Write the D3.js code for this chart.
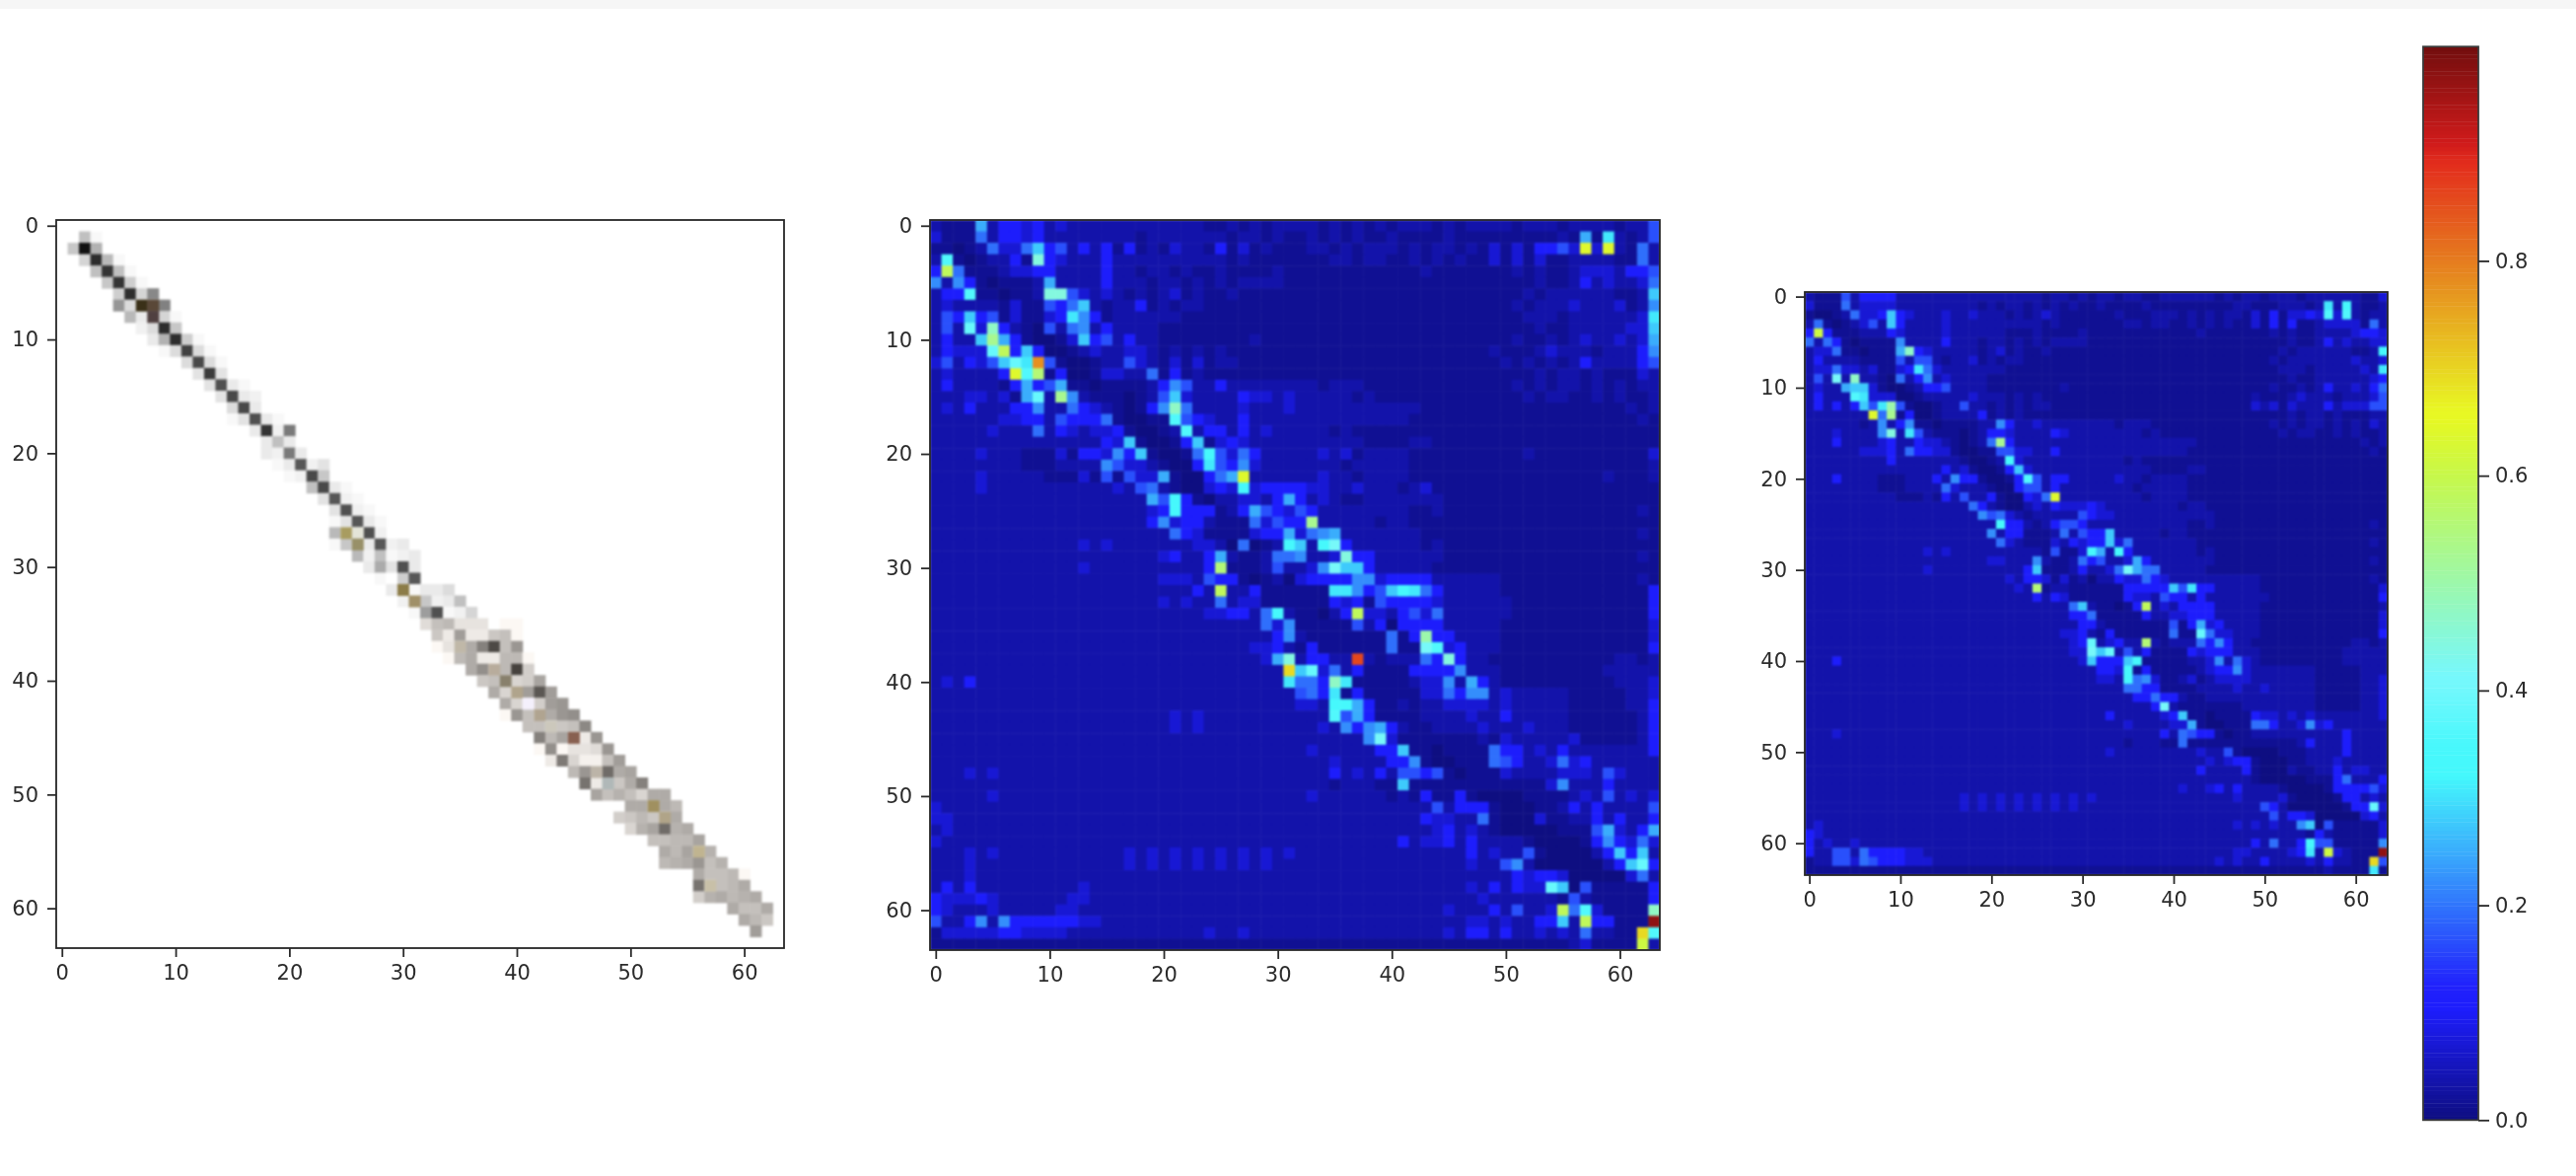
<!DOCTYPE html>
<html><head><meta charset="utf-8">
<script src="https://cdn.jsdelivr.net/npm/d3@7/dist/d3.min.js"></script>
<style>html,body{margin:0;padding:0;background:#fff}svg{display:block}</style>
</head><body><div id="chart"></div>
<script>
const axisTicks=[0,10,20,30,40,50,60];
const colorbarTicks=[0,0.2,0.4,0.6,0.8];
const colorbarMax=0.9995;
// values of the six darkest matrix codes (0-5); higher codes are code/36
const lowCodeValues=[0,0,0.015,0.035,0.07,0.105];
// left image: [row, first column, darkness codes]
const photoShades=[[1,2,"91"],[2,1,"8yb"],[3,2,"6ua1"],[4,3,"9t91"],[5,4,"8t71"],[6,5,"7u6h"],[7,5,"f500i"],[8,6,"a3061"],[9,7,"25u8"],[10,8,"3bu71"],[11,9,"15r51"],[12,11,"5q51"],[13,12,"4s4"],[14,13,"4p31"],[15,14,"4q32"],[16,15,"5q3"],[17,15,"14p31"],[18,17,"3t2j"],[19,18,"393"],[20,18,"32j3"],[21,19,"13o24"],[22,20,"12q8"],[23,22,"9q31"],[24,23,"4o21"],[25,24,"4p21"],[26,24,"14o31"],[27,24,"a00p2"],[28,24,"1803o23"],[29,26,"a29123"],[30,27,"3c4p3"],[31,28,"107o"],[32,29,"301335"],[33,30,"208239"],[34,31,"1ep126"],[35,32,"59a444011"],[36,33,"83e33891"],[37,33,"140ciq9f"],[38,34,"1ac33aa1"],[39,36,"cg0ar7"],[40,37,"89067d"],[41,38,"c60eoe"],[42,39,"c607ef"],[43,39,"1f90cfg"],[44,41,"99089h"],[45,42,"iad03f"],[46,42,"1g1445f"],[47,43,"3j6229e"],[48,45,"af0lcd"],[49,46,"k308ci"],[50,47,"d9b96cc"],[51,50,"cc0ca"],[52,49,"78a80c"],[53,50,"6bdlbc"],[54,52,"99aad"],[55,53,"cad0b"],[56,53,"abcf9b"],[57,56,"c99a1"],[58,56,"k09ac"],[59,56,"7bcabc"],[60,59,"c99c"],[61,60,"ca8"],[62,61,"e"]];
// left image: tinted pixels [row, column, red, green, blue]
const photoTints=[[7,7,58,48,24],[7,8,90,72,56],[8,8,80,64,64],[27,25,168,156,96],[27,26,228,228,216],[28,26,152,144,104],[32,30,140,124,72],[33,31,160,144,104],[37,35,192,184,168],[39,38,184,172,156],[40,39,136,128,108],[41,40,176,164,140],[42,41,244,240,252],[43,42,176,164,144],[44,43,204,200,188],[45,45,136,96,80],[48,47,188,180,168],[49,48,176,184,184],[51,52,160,144,96],[52,53,176,164,136],[55,56,192,180,144],[58,57,200,192,168]];
// middle matrix: one row per line, each character is one cell's value code (base 36)
const middleRows=[
"32229355 45343333 33333333 22323233 33232323 23332323 33323332 33332336",
"42227355 45333333 33233333 33233232 23232322 32222322 22222223 292b3236",
"22123744 7a563535 25232433 25242322 23323233 32323323 24242556 4n4n3273",
"3d212335 2g543335 33333333 33232222 22233233 22323232 24242422 33332273",
"5l722234 45533335 33233232 23222232 22222222 22232222 22232322 34443556",
"83852122 23933335 33323323 23233332 22222222 22222222 22222322 35343347",
"355d2212 23gg6434 32323423 22322222 22222222 22222222 22223233 3333223a",
"34333324 22657a32 33523233 22222222 22222222 22222222 22232333 43334238",
"365a5624 2245b852 33333322 22222222 22222222 22222222 22223332 3333334b",
"363e4h53 21637835 33332222 22222222 22222222 22222222 22222322 3333344a",
"3533aj95 21124a56 35332222 22223222 22222222 22222222 22232232 34334349",
"35444el5 a5112343 34432323 23222222 22222222 22222222 23222343 33233358",
"463546ae bs621123 36432424 23322222 22222222 22222222 22323232 35333356",
"3433335n dk251124 43372523 22222222 22222222 22222222 22222323 32322243",
"35333325 95692212 22235863 35333333 33233322 22222222 22232323 32323233",
"33344342 9e3j8322 21236a43 33354434 33333232 22222222 22223233 22323223",
"34353335 58337543 21258h73 33343334 33333333 33322222 22222222 22222323",
"33333344 55365557 21122d65 43353333 33333333 33222222 22222222 22222232",
"33333433 37354344 521123d3 55353433 33323222 22222222 22222222 22222222",
"33333333 33333335 4a21125a 24543333 33333322 22332222 22222222 22222222",
"33334333 22242554 85a21127 c6475333 33434233 33222222 22223222 22222224",
"33333333 22233338 64432115 b6584333 33332333 33222222 22222222 22222223",
"33334333 33222426 26449211 579n3333 33433233 33222222 22222222 22232223",
"33334333 33333333 43673211 454c4555 54433433 32342222 22222222 22222222",
"33333333 33333333 33396c52 13344359 53432233 33333222 22222222 22222222",
"33333333 33333333 33345c55 52359654 65333333 33223222 22222222 22222232",
"33333333 33333333 33358455 32227465 5j333332 33222222 22222222 22222222",
"33333333 33333333 33333754 22224559 47893333 33322222 22222222 22222232",
"33333333 33333434 33333334 4317123c a3cf5333 33323222 22222222 22222222",
"33333333 33333333 33334533 59322377 8334g553 33333222 22222222 22222232",
"33333333 33333433 33333333 5k222363 348faa53 33332222 22222222 22222222",
"33333333 33333333 33334443 65521231 45555884 55553333 33222222 22222232",
"33333333 33333333 33333335 3l335222 222bb856 acb75333 33222222 22222225",
"33333333 33333333 33334343 37344222 22254526 55554333 33322222 22222225",
"33333333 33333333 33333333 445537c3 22135l44 35647333 33322222 22222225",
"33333333 33333333 33333333 33333748 22222635 15555333 33222222 22222224",
"33333333 33333333 33333333 33333358 32222222 725i5533 33222222 22222224",
"33333333 33333333 33333333 33334453 25222222 722fd453 33222222 22222225",
"33333333 33333333 33333333 3333349g 35533v32 33375g53 32222222 22223323",
"33333333 33333333 33333333 3333333p ae473522 22555583 33222222 22233333",
"34353333 33333333 33333333 3333333b 775hb222 22344839 53222222 22223334",
"33333333 33333333 33333333 33333333 675b2522 22244758 83433333 22222334",
"33333333 33333333 33333333 33333333 443cc952 23233444 43433333 22222335",
"33333333 33333333 33333434 33333333 333d6952 22233334 33533333 22222235",
"33333333 33333333 33333434 33333333 33438589 53223333 43334333 22222235",
"33333333 33333333 33333333 33333333 3333338f 42222222 32433333 42222235",
"33333333 33333333 33333333 33333333 34333335 5a221222 27553435 33333335",
"33333333 33333333 33333333 33333333 33343333 55821122 27653347 45333333",
"33343433 33333333 33333333 33333333 33353435 36656212 22433334 44364333",
"33333333 33333333 33333333 33333333 33323332 2a222222 22222248 33353333",
"33333433 33333333 33333333 33333333 34333333 23252252 11112222 34363434",
"43333333 33333333 33333333 33333333 33333333 33336355 52111223 53533336",
"44333333 33333333 33333333 33333333 33333333 33354433 72111422 33535335",
"34333333 33333333 33333333 33333333 33333333 33334534 32111112 22694359",
"43333333 33333333 33333333 33333333 33333333 35344535 33332111 12585474",
"33343433 33333333 34343434 34343434 33333333 33333335 34336211 1135a5a3",
"33343333 33333333 34343434 34343433 33333333 33333334 33683111 11135ae5",
"33343333 33333333 33333333 33333333 33333333 33333333 33354554 11111473",
"35353333 33333433 33333333 33333333 33333333 33333334 353544ea 16222225",
"54445433 33334433 33333333 33333333 33333333 33333333 43333332 63222225",
"54333433 33344333 33333333 33333333 33333333 33333433 3536334l 7d42222h",
"63358385 55555443 33333333 33333333 33333333 33333334 4343355a 3l55222z",
"24444455 44443333 33333333 43343333 33333333 33333435 53533434 373322pd",
"22222222 22222222 22222222 22222222 22222222 22222222 22222222 342222m3"];
// right matrix: same coding
const rightRows=[
"32226355 55333333 33333333 33233232 33233223 33333232 33233323 33333224",
"42227344 44333333 33323233 23232322 32222322 22222223 32223332 3b3c3223",
"21123744 5a543334 33433323 23432222 22322233 32323233 24252445 4d4d3233",
"37212346 3a533334 33333333 33232222 22233233 22323232 24252522 34444273",
"5m522233 35433334 33333322 23222232 22222222 22232222 22232322 33334554",
"73752122 22833335 33323323 23233332 22222222 22222222 22222322 35343344",
"34472212 229h5433 33323423 22322222 22222222 22222222 22223233 3333223c",
"35333322 22636632 33423233 22222222 22222222 22222222 22232333 33334334",
"34474434 2245b743 33333322 22222222 22222222 22222222 22223332 3333343b",
"363f3h33 21735834 33332222 22222222 22222222 22222222 22222322 33333345",
"34339aa4 21123556 33332222 22223222 22222222 22222222 22232232 35334357",
"35333db4 44112333 33433323 23222222 22222222 22222222 23222343 33233346",
"353535a6 bi621123 36332323 23322222 22222222 22222222 24342433 35344466",
"3333333n 7j251123 33352323 22222222 22222222 22222222 22222323 32322233",
"33333323 83582212 22233853 34333333 33233322 22222222 22232323 32323243",
"33343333 8g3b6322 21235543 33354333 33333232 22222222 22223233 22323223",
"33353333 45335443 21237j53 33333333 33333333 33322222 22222222 22222323",
"33333344 45375544 21122664 43353333 33333333 33222222 22222222 22222232",
"33333333 35333333 321123c4 33333333 33323222 22222222 22222222 22222222",
"33333333 33333335 3421125a 43333333 33333322 22332222 22222222 22222222",
"33353333 22233353 85521125 d6355333 33433233 33222222 22222222 22222222",
"33333333 22233337 43332115 66353333 33332333 33222222 22222222 22222222",
"33333333 33222325 36335211 547n3333 33333233 33222222 22222222 22222222",
"33333333 33333333 33753211 34354445 43333333 32332222 22222222 22222222",
"33333333 33333333 33386743 23333365 44333333 33333222 22222222 22222222",
"33333333 33333333 33333c55 32356653 33333333 33223222 22222222 22222232",
"33333333 33333333 33338355 22237365 5a333332 33222222 22222222 22222222",
"33333333 33333333 33333743 22243545 5a473333 33322222 22222222 22222232",
"33333333 33333434 33333333 3326224c 93c53333 33323222 22222222 22222222",
"33333333 33333333 33334433 38322375 63349533 33333222 22222222 22222232",
"33333333 33333433 33333333 5a222353 347f9773 33332222 22222222 22222222",
"33333333 33333333 33333343 55424231 33544754 33333333 33222222 22222232",
"33333333 33333333 33333334 3k233222 22255555 a6b55333 33222222 22222224",
"33333333 33333333 33333333 35354222 22254436 55353333 33322222 22222225",
"33333333 33333333 33333333 333337a3 22125l34 35555333 33222222 22222223",
"33333333 33333333 33333333 33333557 22222533 44555333 33222222 22222224",
"33333333 33333333 33333333 33333355 32222222 62594533 33222222 22222224",
"33333333 33333333 33333333 33334453 25222222 722e7443 33222222 22222225",
"33333333 33333333 33333333 3333345e 34533k32 33375853 32222222 22223323",
"33333333 33333333 33333333 3333344f ae363522 22545553 33222222 22233333",
"33353333 33333333 33333333 3333334a 555ac222 22334837 43222222 22233333",
"33333333 33333333 33333333 33333333 554c2522 22234558 43333333 22222333",
"33333333 33333333 33333333 33333333 443c7842 23423444 43333333 22222334",
"33333333 33333333 33333333 33333333 33377552 22233334 33433333 22222334",
"33333333 33333333 33333333 33333333 33335575 53223333 33333333 22222334",
"33333333 33333333 33333333 33333333 3333335f 32222222 33333333 22222334",
"33333333 33333333 33333333 33333333 35333334 5a221222 25443434 33333334",
"33333333 33333333 33333333 33333333 33343333 44921122 27753348 45333333",
"33343333 33333333 33333333 33333333 33333335 37655212 23333333 33353333",
"33333333 33333333 33333333 33333333 33323332 27222222 22222235 33353333",
"33333333 33333333 33333333 33333333 34333333 33343362 11112223 33353333",
"33333333 33333333 33333333 33333333 33333333 33334345 52111223 33433333",
"33333333 33333333 33333333 33333333 33333333 33353333 52111322 33534433",
"33333333 33333333 33333333 33333333 33333333 33333333 32111112 22573335",
"33333333 33333333 33333333 33333333 33333333 34334535 33332111 12555564",
"33333333 33333333 34343434 34343434 33333333 33333334 33334211 11255343",
"33333333 33333333 34343434 34343433 33333333 33333333 33653111 111255e4",
"33333333 33333333 33333333 33333333 33333333 33333333 33363554 11111453",
"34333333 33333333 33333333 33333333 33333333 33333334 3434338a 16222224",
"54333333 33333333 33333333 33333333 33333333 33333333 33333332 53222224",
"53433433 33333333 33333333 33333333 33333333 33333333 3537335c 66222228",
"53366375 55544333 33333333 33333333 33333333 33333334 4333345b 3m43222z",
"23366476 55544433 33333333 33333333 33333333 33333434 33533334 353322p6",
"22222222 22222222 22222222 22222222 22222222 22222222 22222222 232222b2"];

const W=2612,H=1192;
// matplotlib jet, channel by channel
const jetR=d3.scaleLinear().domain([0,0.35,0.66,0.89,1]).range([0,0,1,1,0.5]).clamp(true);
const jetG=d3.scaleLinear().domain([0,0.125,0.375,0.64,0.91,1]).range([0,0,1,1,0,0]).clamp(true);
const jetB=d3.scaleLinear().domain([0,0.11,0.34,0.65,1]).range([0.5,1,1,0,0]).clamp(true);
// the reference's colours are jet with a value-dependent wash
const wash=d3.scaleLinear().domain([0,0.11,0.25,0.4,0.5,0.6,0.75,0.9,1]).range([14,30,58,80,60,38,32,28,14]).clamp(true);
function jetColor(v){
  const r=jetR(v)*255,g=jetG(v)*255,b=jetB(v)*255,l=wash(v);
  return d3.rgb(Math.min(r*0.78+l,232),Math.min(g*0.9+l,248),Math.min(b*0.9+l,252));
}
const decode=ch=>{const i=parseInt(ch,36);return i<lowCodeValues.length?lowCodeValues[i]:i/36;};

const svg=d3.select("#chart").append("svg").attr("width",W).attr("height",H).attr("viewBox",[0,0,W,H]);
svg.append("rect").attr("width",W).attr("height",H).attr("fill","#fff");
svg.append("rect").attr("width",W).attr("height",9).attr("fill","#f6f6f6");
const defs=svg.append("defs");

function panel(id,left,top,size){
  const x=d3.scaleLinear().domain([-0.5,63.5]).range([left,left+size]);
  const y=d3.scaleLinear().domain([-0.5,63.5]).range([top,top+size]);
  defs.append("clipPath").attr("id","clip"+id).append("rect").attr("x",left).attr("y",top).attr("width",size).attr("height",size);
  const cells=svg.append("g").attr("clip-path",`url(#clip${id})`).append("g").style("filter","blur(1.1px)");
  cells.append("rect").attr("x",left-4).attr("y",top-4).attr("width",size+8).attr("height",size+8).attr("fill","#fff");
  return {x,y,cells,left,top,size,id};
}
function styleAxis(g){
  g.select(".domain").remove();
  g.selectAll("line").attr("stroke","#2a2a2a").attr("stroke-width",1.8);
  g.selectAll("text").attr("fill","#2b2b2b").attr("font-family","'DejaVu Sans'").attr("font-size",21);
  g.style("filter","blur(0.55px)");
}
function finish(p){
  svg.append("rect").attr("x",p.left).attr("y",p.top).attr("width",p.size).attr("height",p.size)
    .attr("fill","none").attr("stroke","#262626").attr("stroke-width",1.8).style("filter","blur(0.5px)");
  const ax=svg.append("g").attr("transform",`translate(0,${p.top+p.size})`)
    .call(d3.axisBottom(p.x).tickValues(axisTicks).tickSize(9).tickPadding(8).tickFormat(d3.format("d")));
  const ay=svg.append("g").attr("transform",`translate(${p.left},0)`)
    .call(d3.axisLeft(p.y).tickValues(axisTicks).tickSize(9).tickPadding(9).tickFormat(d3.format("d")));
  [ax,ay].forEach(styleAxis);
}
const cellSize=p=>p.x(1)-p.x(0);

// left image
const p1=panel("a",57,223,738);
const shadeCells=photoShades.flatMap(([r,c,s])=>Array.from(s,(ch,i)=>({r,c:c+i,d:parseInt(ch,36)})));
const shade=d3.scaleLinear().domain([0,36]).range([255,3]);
p1.cells.append("g").selectAll("rect").data(shadeCells).join("rect")
  .attr("x",d=>p1.x(d.c-0.5)).attr("y",d=>p1.y(d.r-0.5))
  .attr("width",cellSize(p1)+0.5).attr("height",cellSize(p1)+0.5)
  .attr("fill",d=>{const g=shade(d.d),warm=d.r>=35&&d.d>0?4:0;return d3.rgb(g+warm,g,g-warm);});
p1.cells.append("g").selectAll("rect").data(photoTints).join("rect")
  .attr("x",d=>p1.x(d[1]-0.5)).attr("y",d=>p1.y(d[0]-0.5))
  .attr("width",cellSize(p1)+0.5).attr("height",cellSize(p1)+0.5)
  .attr("fill",d=>d3.rgb(d[2],d[3],d[4]));
finish(p1);

// heat matrices
function heat(p,rows){
  const data=rows.flatMap((s,r)=>Array.from(s.replace(/ /g,""),(ch,c)=>({r,c,v:decode(ch)})));
  p.cells.append("g").selectAll("rect").data(data).join("rect")
    .attr("x",d=>p.x(d.c-0.5)).attr("y",d=>p.y(d.r-0.5))
    .attr("width",cellSize(p)+0.5).attr("height",cellSize(p)+0.5)
    .attr("fill",d=>jetColor(d.v));
  finish(p);
}
heat(panel("b",943,223,740),middleRows);
heat(panel("c",1830,296,591),rightRows);

// colour bar
const cbY=d3.scaleLinear().domain([0,1]).range([1135.3,46.7]);
const cbLevels=d3.range(256).map(i=>i/256);
const cbW=56,cbX=2457;
const cb=svg.append("g").style("filter","blur(0.4px)");
cb.selectAll("rect").data(cbLevels).join("rect")
  .attr("x",cbX).attr("width",cbW)
  .attr("y",d=>cbY(Math.min(d+1/256,colorbarMax))).attr("height",d=>cbY(d)-cbY(Math.min(d+1/256,colorbarMax))+0.4)
  .attr("fill",d=>jetColor(d+0.5/256));
svg.append("rect").attr("x",cbX).attr("y",cbY(colorbarMax)).attr("width",cbW).attr("height",cbY(0)-cbY(colorbarMax))
  .attr("fill","none").attr("stroke","#3a3a3a").attr("stroke-width",1.8).style("filter","blur(0.5px)");
const cbAxis=svg.append("g").attr("transform",`translate(${cbX+cbW},0)`)
  .call(d3.axisRight(cbY).tickValues(colorbarTicks).tickSize(11).tickPadding(6).tickFormat(d3.format(".1f")));
styleAxis(cbAxis);
</script></body></html>
